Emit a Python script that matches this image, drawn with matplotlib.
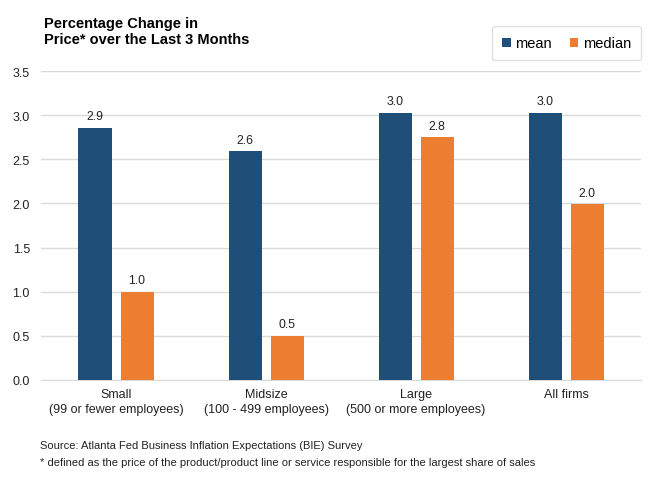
import matplotlib
matplotlib.use("Agg")
import matplotlib.pyplot as plt
import numpy as np

plt.rcParams['font.family'] = ['Liberation Sans', 'DejaVu Sans']

categories = ["Small\n(99 or fewer employees)", "Midsize\n(100 - 499 employees)",
              "Large\n(500 or more employees)", "All firms"]
mean_vals = [2.86, 2.59, 3.03, 3.03]
median_vals = [1.0, 0.5, 2.75, 1.99]
mean_labels = ["2.9", "2.6", "3.0", "3.0"]
median_labels = ["1.0", "0.5", "2.8", "2.0"]
yticks = [0.0, 0.5, 1.0, 1.5, 2.0, 2.5, 3.0, 3.5]

c_mean = "#1F4E79"
c_median = "#ED7D31"

fig = plt.figure(figsize=(6.61, 4.81), dpi=100)
ax = fig.add_axes([0.062, 0.208, 0.908, 0.642])

x = np.arange(len(categories))
w = 0.22
off = 0.14
b1 = ax.bar(x - off, mean_vals, w, color=c_mean, label="mean", zorder=3)
b2 = ax.bar(x + off, median_vals, w, color=c_median, label="median", zorder=3)

for rect, lab in zip(b1, mean_labels):
    ax.annotate(lab, (rect.get_x() + rect.get_width() / 2, rect.get_height()),
                xytext=(0, 4), textcoords="offset points", ha="center", va="bottom",
                fontsize=8.8, color="#222222")
for rect, lab in zip(b2, median_labels):
    ax.annotate(lab, (rect.get_x() + rect.get_width() / 2, rect.get_height()),
                xytext=(0, 4), textcoords="offset points", ha="center", va="bottom",
                fontsize=8.8, color="#222222")

ax.set_xlim(-0.5, 3.5)
ax.set_ylim(0, 3.5)
ax.set_yticks(yticks)
ax.set_yticklabels([f"{v:.1f}" for v in yticks], fontsize=9, color="#222222")
ax.set_xticks(x)
ax.set_xticklabels(categories, fontsize=9, color="#222222", linespacing=1.3)
ax.tick_params(axis="both", length=0, pad=6)
ax.tick_params(axis="y", pad=8)
for s in ["top", "right", "left"]:
    ax.spines[s].set_visible(False)
ax.spines["bottom"].set_color("#D9D9D9")
ax.grid(axis="y", color="#D9D9D9", linewidth=1, zorder=0)
ax.set_axisbelow(True)

fig.text(0.066, 0.965, "Percentage Change in\nPrice* over the Last 3 Months",
         ha="left", va="top", fontsize=10.5, fontweight="bold", linespacing=1.2)

leg = ax.legend(loc="upper right", bbox_to_anchor=(1.0, 1.146), ncol=2,
                frameon=True, fontsize=10.5, handlelength=0.6, handleheight=0.6,
                handletextpad=0.3, columnspacing=1.2, borderpad=0.7,
                borderaxespad=0, fancybox=True)
leg.get_frame().set_edgecolor("#D9D9D9")
leg.get_frame().set_linewidth(1)

fig.text(0.06, 0.072, "Source: Atlanta Fed Business Inflation Expectations (BIE) Survey",
         ha="left", va="center", fontsize=8, color="#222222")
fig.text(0.06, 0.038, "* defined as the price of the product/product line or service responsible for the largest share of sales",
         ha="left", va="center", fontsize=8, color="#222222")

fig.savefig("out.png", dpi=100)
